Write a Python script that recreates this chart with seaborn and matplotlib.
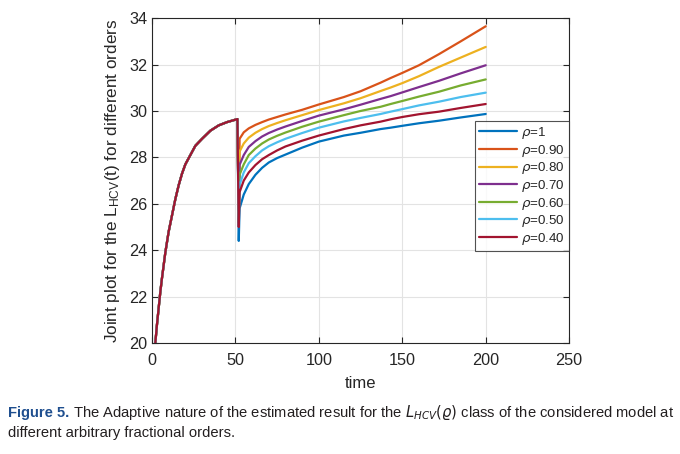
import matplotlib
matplotlib.use("Agg")
import matplotlib.pyplot as plt
import numpy as np
import pandas as pd
import seaborn as sns

# shared rise before the switch at t ~ 51
t_shared = [2, 3, 4, 5, 6, 8, 10, 12, 14, 16, 18, 20, 23, 26, 30, 35, 40, 45, 51.2]
y_shared = [20.0, 20.8, 21.5, 22.2, 22.8, 23.9, 24.8, 25.5, 26.2, 26.8, 27.3,
            27.7, 28.1, 28.5, 28.8, 29.15, 29.38, 29.52, 29.65]

# after the switch, one branch per fractional order
t_tail = [52, 52.5, 55, 58, 62, 66, 70, 75, 80, 90, 100, 115, 125, 137, 143, 150,
          160, 172, 185, 200]
y_rho_100 = [24.4, 25.8, 26.4, 26.85, 27.25, 27.55, 27.78, 27.97, 28.12, 28.42, 28.68,
             28.94, 29.06, 29.22, 29.28, 29.36, 29.47, 29.58, 29.72, 29.87]
y_rho_090 = [25.3, 28.8, 29.08, 29.25, 29.4, 29.52, 29.63, 29.74, 29.85, 30.05, 30.28,
             30.6, 30.85, 31.22, 31.42, 31.64, 31.97, 32.45, 33.0, 33.65]
y_rho_080 = [25.3, 28.25, 28.6, 28.85, 29.06, 29.22, 29.35, 29.48, 29.6, 29.82, 30.04,
             30.33, 30.55, 30.86, 31.01, 31.2, 31.5, 31.9, 32.3, 32.76]
y_rho_070 = [25.2, 27.68, 28.1, 28.45, 28.7, 28.9, 29.05, 29.2, 29.33, 29.57, 29.8,
             30.07, 30.27, 30.52, 30.64, 30.8, 31.03, 31.3, 31.62, 31.97]
y_rho_060 = [25.2, 27.25, 27.7, 28.1, 28.38, 28.6, 28.77, 28.93, 29.07, 29.32, 29.54,
             29.82, 30.0, 30.18, 30.3, 30.43, 30.62, 30.83, 31.1, 31.36]
y_rho_050 = [25.1, 26.82, 27.35, 27.75, 28.05, 28.3, 28.48, 28.65, 28.8, 29.05, 29.28,
             29.55, 29.7, 29.87, 29.97, 30.08, 30.24, 30.4, 30.6, 30.79]
y_rho_040 = [25.0, 26.5, 27.0, 27.35, 27.67, 27.92, 28.1, 28.3, 28.47, 28.72, 28.94,
             29.22, 29.38, 29.54, 29.64, 29.74, 29.86, 29.97, 30.13, 30.3]

labels = [r"$\rho$=1", r"$\rho$=0.90", r"$\rho$=0.80", r"$\rho$=0.70",
          r"$\rho$=0.60", r"$\rho$=0.50", r"$\rho$=0.40"]
tails = [y_rho_100, y_rho_090, y_rho_080, y_rho_070, y_rho_060, y_rho_050, y_rho_040]
colors = ["#0072BD", "#D95319", "#EDB120", "#7E2F8E", "#77AC30", "#4DBEEE", "#A2142F"]

rows = []
for lab, tail in zip(labels, tails):
    for t, y in zip(t_shared + t_tail, y_shared + tail):
        rows.append({"time": t, "L": y, "order": lab})
df = pd.DataFrame(rows)

sns.set_theme(style="white")
plt.rcParams["font.family"] = ["Liberation Sans", "DejaVu Sans"]
plt.rcParams["mathtext.fontset"] = "dejavusans"

fig = plt.figure(figsize=(6.8, 4.54), dpi=100)
ax = fig.add_axes([0.2235, 0.2445, 0.6135, 0.7155])

sns.lineplot(data=df, x="time", y="L", hue="order", hue_order=labels,
             palette=dict(zip(labels, colors)), sort=False, estimator=None,
             linewidth=1.6, ax=ax)

ax.set_xlim(0, 250)
ax.set_ylim(20, 34)
ax.set_xticks(range(0, 251, 50))
ax.set_yticks(range(20, 35, 2))
ax.grid(True, color="#e3e3e3", linewidth=0.8)
for s in ax.spines.values():
    s.set_color("#262626")
    s.set_linewidth(0.8)
ax.tick_params(direction="in", length=4, width=0.8, color="#262626",
               labelsize=11.7, labelcolor="#262626", top=True, right=True,
               bottom=True, left=True)
ax.tick_params(axis="x", pad=7)
ax.set_xlabel("time", fontsize=12, color="#262626", labelpad=6)
ax.set_ylabel(r"Joint plot for the $\mathregular{L_{HCV}}$(t) for different orders",
              fontsize=12.3, color="#262626", labelpad=5)

handles, _ = ax.get_legend_handles_labels()
leg = ax.legend(handles, labels, loc="upper right", bbox_to_anchor=(1.0, 0.683),
                borderaxespad=0, fontsize=9.6, frameon=True, fancybox=False,
                handlelength=2.9, handletextpad=0.3, labelspacing=0.12,
                borderpad=0.3)
leg.get_frame().set_edgecolor("#262626")
leg.get_frame().set_linewidth(0.8)

# caption, sized to fit the width of the figure
cap_font = ["Liberation Sans Narrow", "Liberation Sans"]
cap_size = 12.5
cap_y1 = 1 - 413 / 454
cap_y2 = 1 - 433 / 454
t1 = fig.text(0.012, cap_y1, "Figure 5.", fontsize=cap_size, fontweight="bold",
              color="#1f4f8f", family=cap_font, va="center")
t2 = fig.text(0, cap_y1,
              r"The Adaptive nature of the estimated result for the $L_{HCV}(\varrho)$ class of the considered model at",
              fontsize=cap_size, color="#231f20", family=cap_font, va="center")
t3 = fig.text(0.012, cap_y2, "different arbitrary fractional orders.",
              fontsize=cap_size, color="#231f20", family=cap_font, va="center")
fig.canvas.draw()
w_total = t1.get_window_extent().width + 4 + t2.get_window_extent().width
scale = min(1.0, 664 / w_total)
for t in (t1, t2, t3):
    t.set_fontsize(cap_size * scale)
fig.canvas.draw()
bb = t1.get_window_extent()
t2.set_x((bb.x1 + 4 * scale) / fig.bbox.width)

fig.savefig("out.png", dpi=100)
